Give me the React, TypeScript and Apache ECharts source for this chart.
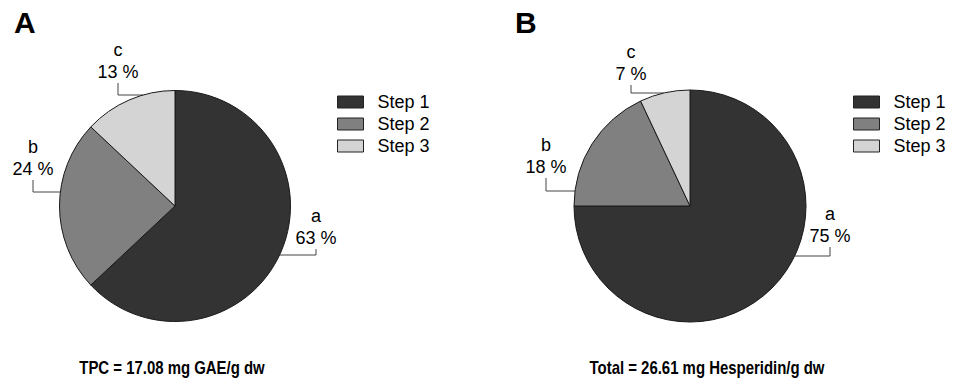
import React, { useEffect, useRef } from 'react';
import * as echarts from 'echarts';

// ---- data ----
const steps = ['Step 1', 'Step 2', 'Step 3'];
const letters = ['a', 'b', 'c'];
const valuesA = [63, 24, 13];
const valuesB = [75, 18, 7];
const panelTags = ['A', 'B'];
const captions = ['TPC = 17.08 mg GAE/g dw', 'Total = 26.61 mg Hesperidin/g dw'];

// ---- styles / layout ----
const sliceColors = ['#333333', '#808080', '#d4d4d4'];
const FONT = '"Liberation Sans", Arial, Helvetica, sans-serif';

const pies = [
  {
    cx: 175, cy: 206, r: 115.5,
    spots: [
      { x: 316, y: 249, lineY: 255 },
      { x: 33, y: 180, lineY: 192 },
      { x: 118, y: 83, lineY: 95 },
    ],
    legendLeft: 337, tagX: 14, captionX: 172,
  },
  {
    cx: 690, cy: 206, r: 116,
    spots: [
      { x: 830, y: 247, lineY: 256 },
      { x: 546, y: 178, lineY: 191 },
      { x: 631, y: 85, lineY: 93 },
    ],
    legendLeft: 853, tagX: 515, captionX: 707,
  },
];

const seriesValues = [valuesA, valuesB];

export default function App() {
  const ref = useRef<HTMLDivElement>(null);

  useEffect(() => {
    if (!ref.current) return;
    const chart = echarts.init(ref.current, undefined, { renderer: 'svg' });

    const series = pies.map((p, si) => ({
      type: 'pie',
      center: [p.cx, p.cy],
      radius: p.r,
      startAngle: 90,
      clockwise: true,
      avoidLabelOverlap: false,
      silent: true,
      data: steps.map((s, i) => ({ name: s, value: seriesValues[si][i] })),
      itemStyle: { borderColor: '#1a1a1a', borderWidth: 1 },
      label: {
        show: true,
        position: 'outside',
        formatter: (prm: any) => `${letters[prm.dataIndex]}\n${prm.value} %`,
        fontSize: 18,
        lineHeight: 22,
        color: '#000',
        fontFamily: FONT,
        align: 'center',
      },
      labelLine: { show: true, length: 8, length2: 8, lineStyle: { color: '#444', width: 1 } },
      labelLayout: (params: any) => {
        const spot = p.spots[params.dataIndex];
        const dy = spot.lineY - p.cy;
        const half = Math.sqrt(Math.max(p.r * p.r - dy * dy, 0));
        const edgeX = spot.x > p.cx ? p.cx + half : p.cx - half;
        return {
          x: spot.x,
          y: spot.y,
          align: 'center',
          verticalAlign: 'bottom',
          labelLinePoints: [
            [edgeX, spot.lineY],
            [spot.x, spot.lineY],
            [spot.x, spot.y],
          ],
        };
      },
    }));

    const legend = pies.map((p) => ({
      show: true,
      orient: 'vertical',
      left: p.legendLeft,
      top: 93,
      padding: 0,
      itemWidth: 26,
      itemHeight: 12,
      itemGap: 4,
      icon: 'rect',
      selectedMode: false,
      data: steps,
      itemStyle: { borderColor: '#222', borderWidth: 1 },
      textStyle: { fontSize: 18, color: '#000', fontFamily: FONT, padding: [0, 0, 0, 9] },
    }));

    const graphic: any[] = [];
    pies.forEach((p, i) => {
      graphic.push({
        type: 'text',
        x: p.tagX,
        y: 22,
        style: {
          text: panelTags[i],
          fontSize: 30,
          fontWeight: 'bold',
          fontFamily: FONT,
          fill: '#000',
          align: 'left',
          verticalAlign: 'middle',
        },
      });
      graphic.push({
        type: 'text',
        x: p.captionX,
        y: 368,
        scaleX: 0.83,
        style: {
          text: captions[i],
          fontSize: 18,
          fontWeight: 'bold',
          fontFamily: FONT,
          fill: '#000',
          align: 'center',
          verticalAlign: 'middle',
        },
      });
    });

    chart.setOption({
      animation: false,
      backgroundColor: '#ffffff',
      color: sliceColors,
      legend,
      series,
      graphic,
    });

    return () => chart.dispose();
  }, []);

  return (
    <div
      ref={ref}
      style={{ position: 'fixed', left: 0, top: 0, width: 957, height: 381, background: '#fff' }}
    />
  );
}
